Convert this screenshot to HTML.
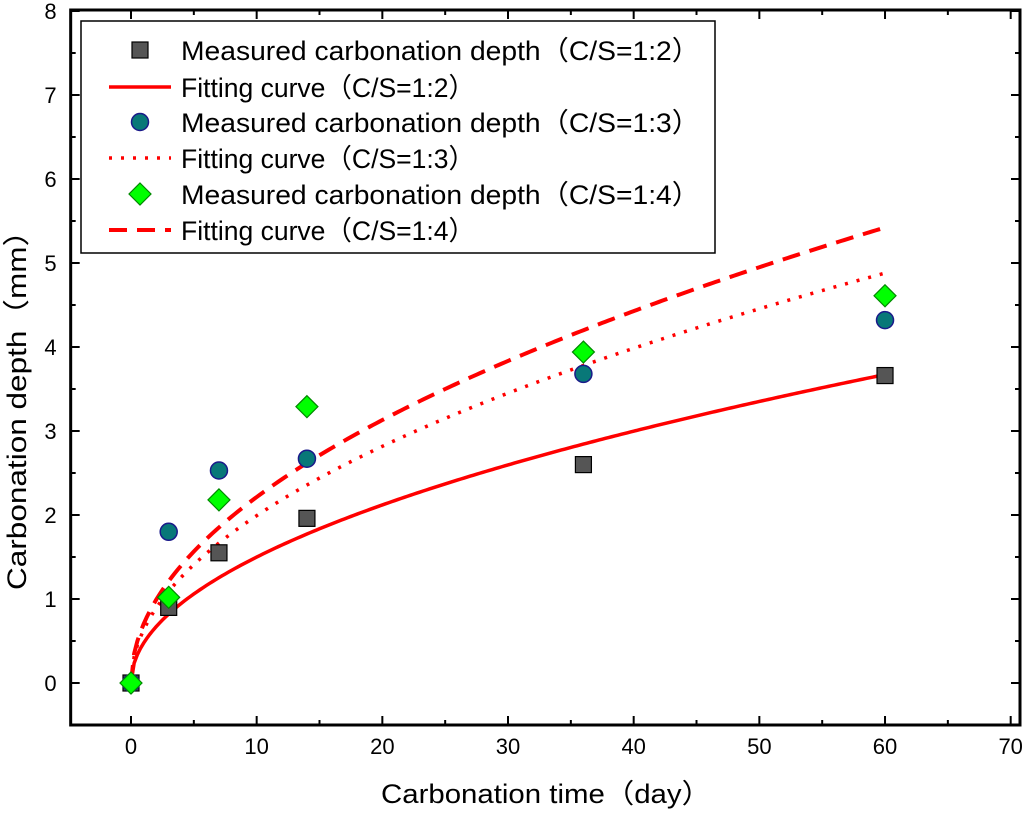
<!DOCTYPE html>
<html><head><meta charset="utf-8"><style>
body{margin:0;background:#fff;}
svg text{font-family:"Liberation Sans","Noto Sans CJK SC",sans-serif;fill:#000;}
</style></head><body>
<svg id="chart" width="1024" height="811">
<g id="axes"></g><g id="marks"></g><g id="legend"></g>
</svg>
<script>
const times=[0,3,7,14,36,60];
const depth12=[0,0.9,1.55,1.96,2.6,3.66];
const depth13=[0,1.8,2.53,2.67,3.68,4.32];
const depth14=[0,1.02,2.18,3.29,3.94,4.61];
const fitK=[0.474,0.63,0.70];
const xTicks=[0,10,20,30,40,50,60,70];
const yTicks=[0,1,2,3,4,5,6,7,8];
const NS="http://www.w3.org/2000/svg";
const X=v=>131+v*12.567, Y=v=>683-v*84;
function el(t,a,p){const e=document.createElementNS(NS,t);for(const k in a)e.setAttribute(k,a[k]);p.appendChild(e);return e;}
const ax=document.getElementById('axes'),mk=document.getElementById('marks'),lg=document.getElementById('legend');
const L=X(-4.8),R=1020,T=Y(8)-1,B=Y(-0.5);
const fr=el('rect',{x:L,y:T,width:R-L,height:B-T,fill:'none',stroke:'#000','stroke-width':3},ax);

xTicks.forEach(v=>{const x=X(v);
 el('line',{x1:x,y1:B,x2:x,y2:B-9,stroke:'#000','stroke-width':2},ax);
 el('line',{x1:x,y1:T,x2:x,y2:T+9,stroke:'#000','stroke-width':2},ax);
 if(v<70){el('line',{x1:X(v+5),y1:B,x2:X(v+5),y2:B-5,stroke:'#000','stroke-width':2},ax);el('line',{x1:X(v+5),y1:T,x2:X(v+5),y2:T+5,stroke:'#000','stroke-width':2},ax);}
 const t=el('text',{x:x,y:B+29,'text-anchor':'middle','font-size':22},ax);t.textContent=v;
 });
yTicks.forEach(v=>{const y=Y(v);
 el('line',{x1:L,y1:y,x2:L+9,y2:y,stroke:'#000','stroke-width':2},ax);
 el('line',{x1:R,y1:y,x2:R-9,y2:y,stroke:'#000','stroke-width':2},ax);
 if(v<8){el('line',{x1:L,y1:Y(v+0.5),x2:L+5,y2:Y(v+0.5),stroke:'#000','stroke-width':2},ax);el('line',{x1:R,y1:Y(v+0.5),x2:R-5,y2:Y(v+0.5),stroke:'#000','stroke-width':2},ax);}
 const t=el('text',{x:L-14,y:y+8,'text-anchor':'end','font-size':22},ax);t.textContent=v;
 });
let xt=el('text',{x:381,y:803,'font-size':27,textLength:330,lengthAdjust:'spacingAndGlyphs'},ax);xt.textContent='Carbonation time（day）';

let yt=el('text',{x:0,y:0,'font-size':27,textLength:375,lengthAdjust:'spacingAndGlyphs',transform:'translate(26,590) rotate(-90)'},ax);yt.textContent='Carbonation depth（mm）';

const styles=[{w:3.5,d:''},{w:3.5,d:'3 9'},{w:4,d:'18 10'}];
const fitNames=['fit-curve-cs12','fit-curve-cs13','fit-curve-cs14'];
fitK.forEach((k,i)=>{let d='';for(let t=0;t<=60;t+=0.25)d+=(t?'L':'M')+X(t)+','+Y(k*Math.sqrt(t));
 const p=el('path',{d:d,fill:'none',stroke:'#f00','stroke-width':styles[i].w,'stroke-dasharray':styles[i].d},mk);
 });
function sq(x,y,g){return el('rect',{x:x-8,y:y-8,width:16,height:16,fill:'#555',stroke:'#000','stroke-width':1.2},g);}
function ci(x,y,g){return el('circle',{cx:x,cy:y,r:8.5,fill:'#087878',stroke:'#1a1a8a','stroke-width':1.5},g);}
function di(x,y,g){return el('polygon',{points:`${x},${y-11} ${x+11},${y} ${x},${y+11} ${x-11},${y}`,fill:'#0f0',stroke:'#080','stroke-width':1.2},g);}
times.forEach((t,i)=>{const a=sq(X(t),Y(depth12[i]),mk);});
times.forEach((t,i)=>{const a=ci(X(t),Y(depth13[i]),mk);});
times.forEach((t,i)=>{const a=di(X(t),Y(depth14[i]),mk);});
const lb=el('rect',{x:81,y:21,width:634,height:232,fill:'#fff',stroke:'#000','stroke-width':1.5},lg);

const labels=['Measured carbonation depth（C/S=1:2）','Fitting curve（C/S=1:2）','Measured carbonation depth（C/S=1:3）','Fitting curve（C/S=1:3）','Measured carbonation depth（C/S=1:4）','Fitting curve（C/S=1:4）'];
const lens=[519,294,519,294,519,294];
const rows=[50,87,122,158,194,230];
labels.forEach((s,i)=>{const y=rows[i];
 if(i==0)sq(140,y,lg);else if(i==2)ci(140,y,lg);else if(i==4)di(140,y,lg);
 else{const st=styles[(i-1)/2];el('line',{x1:109,y1:y,x2:171,y2:y,stroke:'#f00','stroke-width':st.w,'stroke-dasharray':st.d},lg);}
 const t=el('text',{x:181,y:y+10,'font-size':27,textLength:lens[i],lengthAdjust:'spacingAndGlyphs'},lg);t.textContent=s;
 });
</script>
</body></html>
